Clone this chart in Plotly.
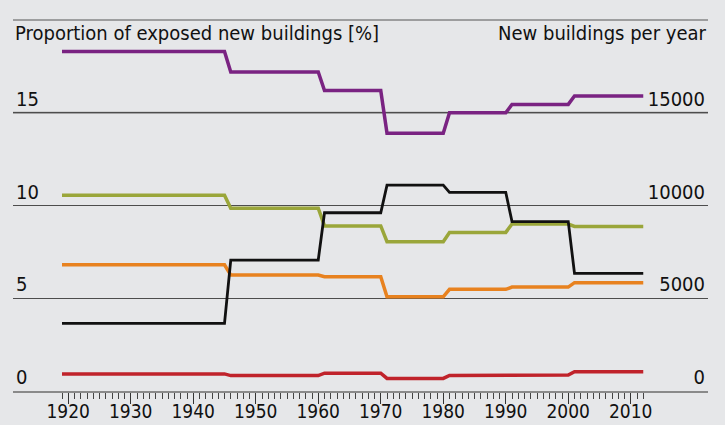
import plotly.graph_objects as go

# Building periods (first and last construction year of each period)
period_start = [1919, 1946, 1961, 1971, 1981, 1991, 2001]
period_end = [1945, 1960, 1970, 1980, 1990, 2000, 2012]

# Proportion of exposed new buildings [%] per period
share_purple = [18.3, 17.2, 16.2, 13.9, 15.0, 15.45, 15.9]
share_green = [10.55, 9.85, 8.9, 8.05, 8.55, 9.0, 8.87]
share_orange = [6.8, 6.25, 6.16, 5.08, 5.48, 5.6, 5.84]
share_red = [0.92, 0.83, 0.96, 0.68, 0.84, 0.86, 1.04]

# New buildings per year (right axis)
new_buildings = [3650, 7060, 9610, 11100, 10710, 9130, 6340]

decade_labels = [1920, 1930, 1940, 1950, 1960, 1970, 1980, 1990, 2000, 2010]
left_ticks = [0, 5, 10, 15]
right_ticks = [0, 5000, 10000, 15000]

FONT = "DejaVu Sans Condensed, Open Sans, sans-serif"
BG = "#e6e7e9"
TXT = "#111111"


def steps(values):
    """Flat segment for each period; the line slopes between periods."""
    xs, ys = [], []
    for s, e, v in zip(period_start, period_end, values):
        xs += [s, e]
        ys += [v, v]
    return xs, ys


fig = go.Figure()

for name, vals, color in [
    ("Purple", share_purple, "#7a2382"),
    ("Green", share_green, "#9aa63a"),
    ("Orange", share_orange, "#e8821f"),
    ("Red", share_red, "#c0232b"),
]:
    xs, ys = steps(vals)
    fig.add_trace(go.Scatter(x=xs, y=ys, mode="lines", name=name,
                             line=dict(color=color, width=3.5),
                             xaxis="x", yaxis="y", showlegend=False))

xs, ys = steps(new_buildings)
fig.add_trace(go.Scatter(x=xs, y=ys, mode="lines", name="New buildings",
                         line=dict(color="#111111", width=2.8),
                         xaxis="x", yaxis="y2", showlegend=False))

x_range = [1911.16, 2022.36]
major = list(range(1920, 2011, 5))
major_text = [str(v) if v in decade_labels else "" for v in major]

fig.update_layout(
    width=725, height=425,
    margin=dict(l=13, r=17, t=20, b=34, autoexpand=False),
    paper_bgcolor=BG, plot_bgcolor=BG,
    font=dict(family=FONT, size=20, color=TXT),
    xaxis=dict(
        range=x_range, showgrid=False, zeroline=False, automargin=False,
        showline=True, linecolor="#8a8a8a", linewidth=2,
        tickmode="array", tickvals=major, ticktext=major_text,
        ticks="outside", ticklen=11, tickwidth=1, tickcolor="#333333",
        ticklabelstandoff=-9,
        tickfont=dict(family=FONT, size=19, color=TXT),
        minor=dict(tickmode="array", tickvals=list(range(1919, 2013)),
                   ticks="outside", ticklen=6, tickwidth=1, tickcolor="#444444"),
    ),
    yaxis=dict(
        range=[0, 20], zeroline=False, showline=False, automargin=False,
        tickmode="array", tickvals=left_ticks,
        ticktext=[str(v) for v in left_ticks],
        ticks="", ticklabelposition="inside top",
        showgrid=True, gridcolor="#4d4d4d", gridwidth=1,
        tickfont=dict(family=FONT, size=20, color=TXT),
    ),
    yaxis2=dict(
        range=[0, 20000], overlaying="y", side="right", automargin=False,
        zeroline=False, showline=False, showgrid=False,
        tickmode="array", tickvals=right_ticks,
        ticktext=[str(v) for v in right_ticks],
        ticks="", ticklabelposition="inside top",
        tickfont=dict(family=FONT, size=20, color=TXT),
    ),
)

# the 15 % gridline is drawn lighter and heavier than the others
fig.add_shape(type="line", xref="paper", x0=0, x1=1, yref="y", y0=15, y1=15,
              line=dict(color="#8c8c8c", width=2), layer="below")
# frame line along the top of the plot
fig.add_shape(type="line", xref="paper", x0=0, x1=1, yref="paper", y0=1, y1=1,
              line=dict(color="#555555", width=1), layer="below")

fig.add_annotation(text="Proportion of exposed new buildings [%]",
                   xref="paper", yref="paper", x=0, y=0.965,
                   xanchor="left", yanchor="middle", showarrow=False,
                   font=dict(family=FONT, size=20, color=TXT))
fig.add_annotation(text="New buildings per year",
                   xref="paper", yref="paper", x=1, y=0.965,
                   xanchor="right", yanchor="middle", showarrow=False,
                   font=dict(family=FONT, size=20, color=TXT))

fig.write_html("out.html")
